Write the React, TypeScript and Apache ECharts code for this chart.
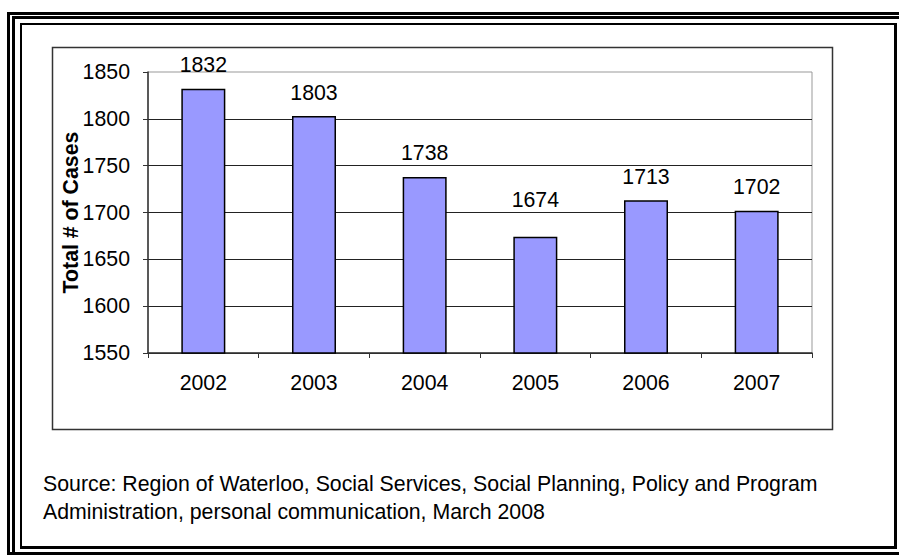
import React, { useEffect, useRef } from "react";
import * as echarts from "echarts";

const categories = ["2002", "2003", "2004", "2005", "2006", "2007"];
const caseCounts = [1832, 1803, 1738, 1674, 1713, 1702];
const yAxisTitle = "Total # of Cases";
const sourceLines = [
  "Source: Region of Waterloo, Social Services, Social Planning, Policy and Program",
  "Administration, personal communication, March 2008",
];

const FONT = "'Liberation Sans', Arial, Helvetica, sans-serif";
const FS = 21.3;

export default function App() {
  const ref = useRef<HTMLDivElement>(null);
  useEffect(() => {
    if (!ref.current) return;
    const chart = echarts.init(ref.current, null, { renderer: "svg" });
    chart.setOption({
      animation: false,
      backgroundColor: "#ffffff",
      textStyle: { fontFamily: FONT },
      grid: {
        left: 148,
        right: 87,
        top: 72,
        bottom: 202,
        show: true,
        borderColor: "#999999",
        borderWidth: 1,
      },
      xAxis: {
        type: "category",
        data: categories,
        boundaryGap: true,
        axisLine: { show: true, lineStyle: { color: "#333333", width: 1.5 } },
        axisTick: { show: true, interval: 0, length: 5, lineStyle: { color: "#333333" } },
        axisLabel: { color: "#000", fontSize: FS, fontFamily: FONT, margin: 19, interval: 0 },
        splitLine: { show: false },
      },
      yAxis: {
        type: "value",
        min: 1550,
        max: 1850,
        interval: 50,
        name: yAxisTitle,
        nameLocation: "middle",
        nameRotate: 90,
        nameGap: 67,
        nameMoveOverlap: false,
        nameTextStyle: { color: "#000", fontSize: FS, fontWeight: "bold", fontFamily: FONT },
        axisLine: { show: true, lineStyle: { color: "#333333", width: 1.5 } },
        axisTick: { show: true, length: 5, lineStyle: { color: "#333333" } },
        axisLabel: {
          color: "#000",
          fontSize: FS,
          fontFamily: FONT,
          margin: 18,
          formatter: (v: number) => String(v),
        },
        splitLine: {
          show: true,
          showMaxLine: false,
          lineStyle: { color: "#222222", width: 1 },
        },
      },
      series: [
        {
          type: "bar",
          data: caseCounts.map((v, i) => (i === 3 ? { value: v, label: { distance: 26 } } : v)),
          barWidth: 44,
          itemStyle: { color: "#9999FF", borderColor: "#000000", borderWidth: 1.5 },
          label: {
            show: true,
            position: "top",
            distance: 13,
            color: "#000",
            fontSize: FS,
            fontFamily: FONT,
          },
        },
      ],
      graphic: [
        {
          type: "rect",
          silent: true,
          shape: { x: 8.5, y: 13.5, width: 1000, height: 540 },
          style: { fill: "none", stroke: "#000", lineWidth: 3 },
        },
        {
          type: "rect",
          silent: true,
          shape: { x: 13.5, y: 17.5, width: 1000, height: 1000 },
          style: { fill: "none", stroke: "#000", lineWidth: 3 },
        },
        {
          type: "polyline",
          silent: true,
          shape: { points: [[21, 547], [21, 24], [895.5, 24]] },
          style: { fill: "none", stroke: "#000", lineWidth: 2 },
        },
        {
          type: "polyline",
          silent: true,
          shape: { points: [[20, 547.5], [895.5, 547.5], [895.5, 23]] },
          style: { fill: "none", stroke: "#000", lineWidth: 3 },
        },
        {
          type: "rect",
          silent: true,
          shape: { x: 52.5, y: 47.5, width: 780, height: 382 },
          style: { fill: "none", stroke: "#333", lineWidth: 1.5 },
        },
        {
          type: "text",
          silent: true,
          left: 43,
          top: 470,
          style: {
            text: sourceLines.join("\n"),
            fill: "#000",
            font: `${FS}px ${FONT}`,
            lineHeight: 28,
          },
        },
      ],
    });
    return () => chart.dispose();
  }, []);
  return (
    <div
      ref={ref}
      style={{ position: "fixed", left: 0, top: 0, width: 899, height: 555, background: "#fff" }}
    />
  );
}
